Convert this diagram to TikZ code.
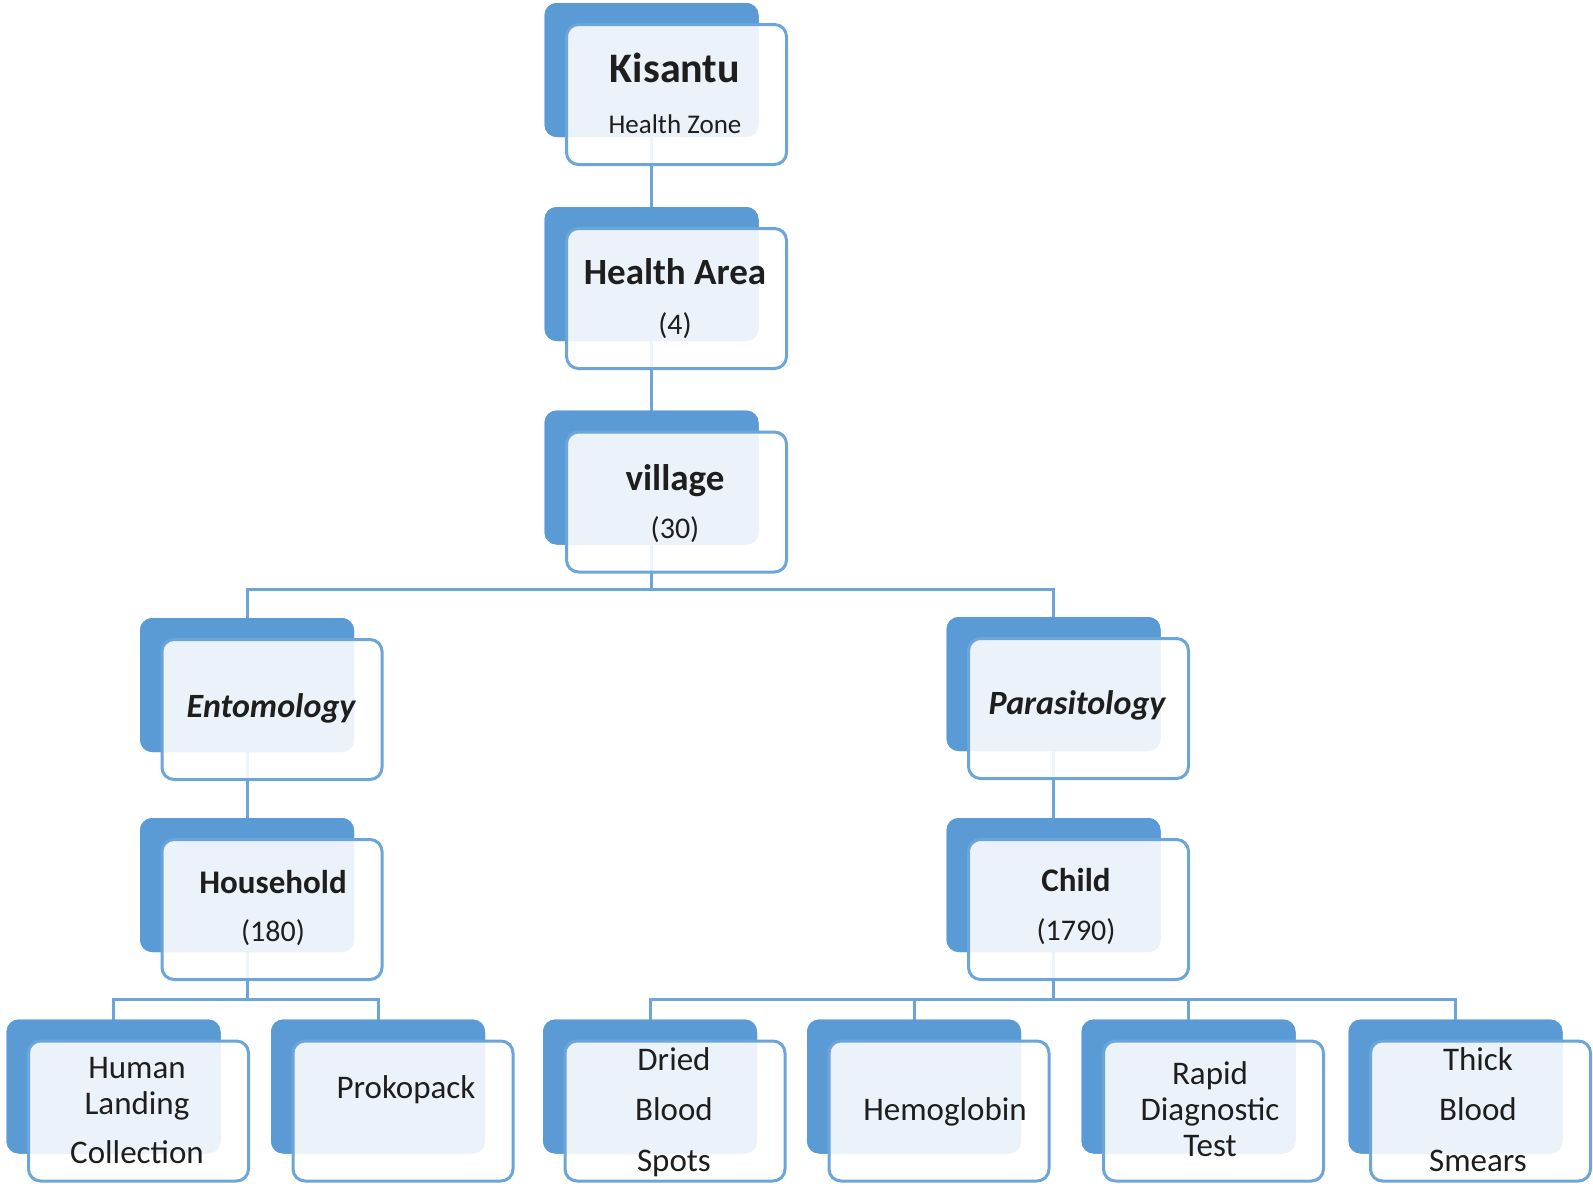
\documentclass[tikz,border=0pt]{standalone}
\usepackage{fontspec}
\setmainfont{Carlito}
\usetikzlibrary{calc}
\definecolor{bblue}{HTML}{5B9BD5}
\definecolor{tcol}{HTML}{1E1E1E}
\tikzset{
  backbox/.style={fill=bblue, draw=bblue, line width=1pt, rounded corners=12pt, minimum width=213pt, minimum height=133pt, inner sep=0pt},
  frontbox/.style={fill=white, fill opacity=0.88, draw=bblue!90, line width=3pt, rounded corners=12pt, minimum width=220pt, minimum height=140pt, inner sep=0pt},
  conn/.style={draw=bblue!90, line width=3pt},
  txt/.style={text=tcol, inner sep=0pt, text depth=0pt, anchor=center},
  tbig/.style={txt, font=\fontsize{42}{48}\selectfont\bfseries, text height=27pt},
  thead/.style={txt, font=\fontsize{37}{44}\selectfont\bfseries, text height=24pt},
  tital/.style={txt, font=\fontsize{34}{40}\selectfont\bfseries\itshape, text height=22pt},
  tmid/.style={txt, font=\fontsize{33}{40}\selectfont\bfseries, text height=21pt},
  tsub/.style={txt, font=\fontsize{27}{32}\selectfont, text height=17pt},
  tnum/.style={txt, font=\fontsize{30}{36}\selectfont, text height=19pt},
  tleaf/.style={txt, font=\fontsize{33}{40}\selectfont, text height=21pt},
}
\begin{document}
\begin{tikzpicture}[x=1pt,y=-1pt]
\useasboundingbox (0,0) rectangle (1593,1186);
% back boxes (positions)
\node[backbox] (kb) at (651.5,70) {};
\node[backbox] (hab) at (651.5,274) {};
\node[backbox] (vb) at (651.5,477.5) {};
\node[backbox] (eb) at (247,685) {};
\node[backbox] (pb) at (1053.5,684) {};
\node[backbox] (hb) at (247,885) {};
\node[backbox] (cb) at (1053.5,885) {};
\node[backbox] (l1b) at (113.5,1086.5) {};
\node[backbox] (l2b) at (378,1086.5) {};
\node[backbox] (d1b) at (650,1086.5) {};
\node[backbox] (d2b) at (914,1086.5) {};
\node[backbox] (d3b) at (1188.5,1086.5) {};
\node[backbox] (d4b) at (1455.5,1086.5) {};
% connector bus points
\coordinate (bus1) at (651.5,589);
\coordinate (bus2) at (247,999);
\coordinate (bus3) at (1053.5,999);
% connectors (behind boxes)
\begin{scope}[on background layer/.try]
\end{scope}
\draw[conn] (kb.south) -- (hab.north);
\draw[conn] (hab.south) -- (vb.north);
\draw[conn] (vb.south) -- (bus1);
\draw[conn] (eb.north) |- (bus1) -| (pb.north);
\draw[conn] (eb.south) -- (hb.north);
\draw[conn] (pb.south) -- (cb.north);
\draw[conn] (hb.south) -- (bus2);
\draw[conn] (l1b.north) |- (bus2) -| (l2b.north);
\draw[conn] (cb.south) -- (bus3);
\draw[conn] (d1b.north) |- (bus3) -| (d4b.north);
\draw[conn] (d2b.north) -- (d2b.north |- bus3);
\draw[conn] (d3b.north) -- (d3b.north |- bus3);
% redraw back boxes over connectors
\foreach \n in {kb,hab,vb,eb,pb,hb,cb,l1b,l2b,d1b,d2b,d3b,d4b}{
  \fill[bblue, rounded corners=12pt] (\n.north west) rectangle (\n.south east);
}
% front boxes
\node[frontbox] (kf) at ($(kb)+(25,24.5)$) {};
\node[frontbox] (haf) at ($(hab)+(25,24.5)$) {};
\node[frontbox] (vf) at ($(vb)+(25,24.5)$) {};
\node[frontbox] (ef) at ($(eb)+(25,24.5)$) {};
\node[frontbox] (pf) at ($(pb)+(25,24.5)$) {};
\node[frontbox] (hf) at ($(hb)+(25,24.5)$) {};
\node[frontbox] (cf) at ($(cb)+(25,24.5)$) {};
\node[frontbox] (l1f) at ($(l1b)+(25,24.5)$) {};
\node[frontbox] (l2f) at ($(l2b)+(25,24.5)$) {};
\node[frontbox] (d1f) at ($(d1b)+(25,24.5)$) {};
\node[frontbox] (d2f) at ($(d2b)+(25,24.5)$) {};
\node[frontbox] (d3f) at ($(d3b)+(25,24.5)$) {};
\node[frontbox] (d4f) at ($(d4b)+(25,24.5)$) {};
% texts
\node[tbig] (t1) at (675,69) {Kisantu};
\node[tsub] (t2) at (675,125) {Health Zone};
\node[thead] (t3) at (675,272) {Health Area};
\node[tnum] (t4) at (675,325) {(4)};
\node[thead] (t5) at (675,478) {village};
\node[tnum] (t6) at (675,529) {(30)};
\node[tital] (t7) at (271,706) {Entomology};
\node[tital] (t8) at (1077,703) {Parasitology};
\node[tmid] (t9) at (273,883) {Household};
\node[tnum] (t10) at (273,932) {(180)};
\node[tmid] (t11) at (1076,881) {Child};
\node[tnum] (t12) at (1076,931) {(1790)};
\node[tleaf] (t13) at (137,1068) {Human};
\node[tleaf] (t14) at (137,1104) {Landing};
\node[tleaf] (t15) at (137,1153) {Collection};
\node[tleaf] (t16) at (406,1088) {Prokopack};
\node[tleaf] (t17) at (674,1060) {Dried};
\node[tleaf] (t18) at (674,1110) {Blood};
\node[tleaf] (t19) at (674,1161) {Spots};
\node[tleaf] (t20) at (945,1110) {Hemoglobin};
\node[tleaf] (t21) at (1210,1074) {Rapid};
\node[tleaf] (t22) at (1210,1110) {Diagnostic};
\node[tleaf] (t23) at (1210,1146) {Test};
\node[tleaf] (t24) at (1478,1060) {Thick};
\node[tleaf] (t25) at (1478,1110) {Blood};
\node[tleaf] (t26) at (1478,1161) {Smears};
\end{tikzpicture}
\end{document}
